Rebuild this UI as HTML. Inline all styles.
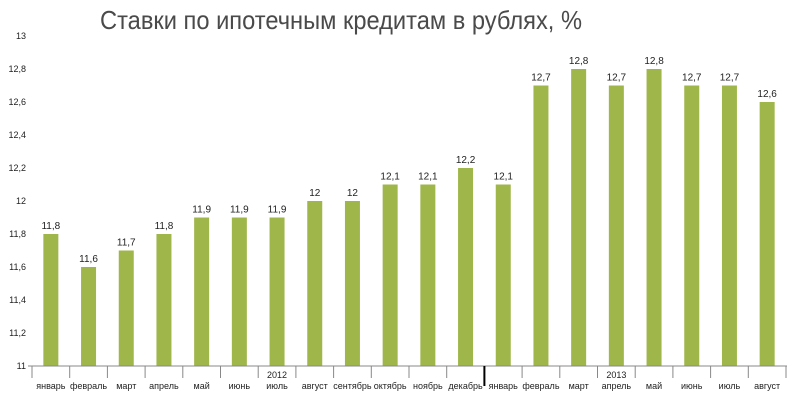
<!DOCTYPE html><html><head><meta charset="utf-8"><style>
body{margin:0;background:#fff}
svg text{font-family:"Liberation Sans",sans-serif}
</style></head><body>
<svg width="800" height="400" xmlns="http://www.w3.org/2000/svg">
<text x="341" y="29" text-anchor="middle" font-size="26" fill="#4a4a4a" textLength="482" lengthAdjust="spacingAndGlyphs">Ставки по ипотечным кредитам в рублях, %</text>
<g font-size="9" fill="#222" text-anchor="end">
<text x="26" y="39">13</text><text x="26" y="72">12,8</text><text x="26" y="105">12,6</text><text x="26" y="138">12,4</text><text x="26" y="171">12,2</text><text x="26" y="204">12</text><text x="26" y="237">11,8</text><text x="26" y="270">11,6</text><text x="26" y="303">11,4</text><text x="26" y="336">11,2</text><text x="26" y="369">11</text>
</g>
<g fill="#9fb64a">
<rect x="43.35" y="234" width="15" height="132"/>
<rect x="81.05" y="267" width="15" height="99"/>
<rect x="118.75" y="250.5" width="15" height="115.5"/>
<rect x="156.45" y="234" width="15" height="132"/>
<rect x="194.15" y="217.5" width="15" height="148.5"/>
<rect x="231.85" y="217.5" width="15" height="148.5"/>
<rect x="269.55" y="217.5" width="15" height="148.5"/>
<rect x="307.25" y="201" width="15" height="165"/>
<rect x="344.95" y="201" width="15" height="165"/>
<rect x="382.65" y="184.5" width="15" height="181.5"/>
<rect x="420.35" y="184.5" width="15" height="181.5"/>
<rect x="458.05" y="168" width="15" height="198"/>
<rect x="495.75" y="184.5" width="15" height="181.5"/>
<rect x="533.45" y="85.5" width="15" height="280.5"/>
<rect x="571.15" y="69" width="15" height="297"/>
<rect x="608.85" y="85.5" width="15" height="280.5"/>
<rect x="646.55" y="69" width="15" height="297"/>
<rect x="684.25" y="85.5" width="15" height="280.5"/>
<rect x="721.95" y="85.5" width="15" height="280.5"/>
<rect x="759.65" y="102" width="15" height="264"/>
</g>
<g font-size="10" fill="#222" text-anchor="middle">
<text x="50.85" y="229">11,8</text>
<text x="88.55" y="262">11,6</text>
<text x="126.25" y="245.5">11,7</text>
<text x="163.95" y="229">11,8</text>
<text x="201.65" y="212.5">11,9</text>
<text x="239.35" y="212.5">11,9</text>
<text x="277.05" y="212.5">11,9</text>
<text x="314.75" y="196">12</text>
<text x="352.45" y="196">12</text>
<text x="390.15" y="179.5">12,1</text>
<text x="427.85" y="179.5">12,1</text>
<text x="465.55" y="163">12,2</text>
<text x="503.25" y="179.5">12,1</text>
<text x="540.95" y="80.5">12,7</text>
<text x="578.65" y="64">12,8</text>
<text x="616.35" y="80.5">12,7</text>
<text x="654.05" y="64">12,8</text>
<text x="691.75" y="80.5">12,7</text>
<text x="729.45" y="80.5">12,7</text>
<text x="767.15" y="97">12,6</text>
</g>
<g font-size="9" fill="#222" text-anchor="middle">
<text x="50.85" y="389">январь</text>
<text x="88.55" y="389">февраль</text>
<text x="126.25" y="389">март</text>
<text x="163.95" y="389">апрель</text>
<text x="201.65" y="389">май</text>
<text x="239.35" y="389">июнь</text>
<text x="277.05" y="389">июль</text>
<text x="314.75" y="389">август</text>
<text x="352.45" y="389">сентябрь</text>
<text x="390.15" y="389">октябрь</text>
<text x="427.85" y="389">ноябрь</text>
<text x="465.55" y="389">декабрь</text>
<text x="503.25" y="389">январь</text>
<text x="540.95" y="389">февраль</text>
<text x="578.65" y="389">март</text>
<text x="616.35" y="389">апрель</text>
<text x="654.05" y="389">май</text>
<text x="691.75" y="389">июнь</text>
<text x="729.45" y="389">июль</text>
<text x="767.15" y="389">август</text>
<text x="277.05" y="378">2012</text>
<text x="616.35" y="378">2013</text>
</g>
<line x1="28" y1="366" x2="787" y2="366" stroke="#888"/>
<g stroke="#888">
<line x1="32" y1="366" x2="32" y2="378"/><line x1="69.7" y1="366" x2="69.7" y2="378"/><line x1="107.4" y1="366" x2="107.4" y2="378"/><line x1="145.1" y1="366" x2="145.1" y2="378"/><line x1="182.8" y1="366" x2="182.8" y2="378"/><line x1="220.5" y1="366" x2="220.5" y2="378"/><line x1="258.2" y1="366" x2="258.2" y2="378"/><line x1="295.9" y1="366" x2="295.9" y2="378"/><line x1="333.6" y1="366" x2="333.6" y2="378"/><line x1="371.3" y1="366" x2="371.3" y2="378"/><line x1="409" y1="366" x2="409" y2="378"/><line x1="446.7" y1="366" x2="446.7" y2="378"/><line x1="522.1" y1="366" x2="522.1" y2="378"/><line x1="559.8" y1="366" x2="559.8" y2="378"/><line x1="597.5" y1="366" x2="597.5" y2="378"/><line x1="635.2" y1="366" x2="635.2" y2="378"/><line x1="672.9" y1="366" x2="672.9" y2="378"/><line x1="710.6" y1="366" x2="710.6" y2="378"/><line x1="748.3" y1="366" x2="748.3" y2="378"/><line x1="786" y1="366" x2="786" y2="378"/>
</g>
<line x1="484.4" y1="366" x2="484.4" y2="386" stroke="#000" stroke-width="2"/>
</svg>
</body></html>
